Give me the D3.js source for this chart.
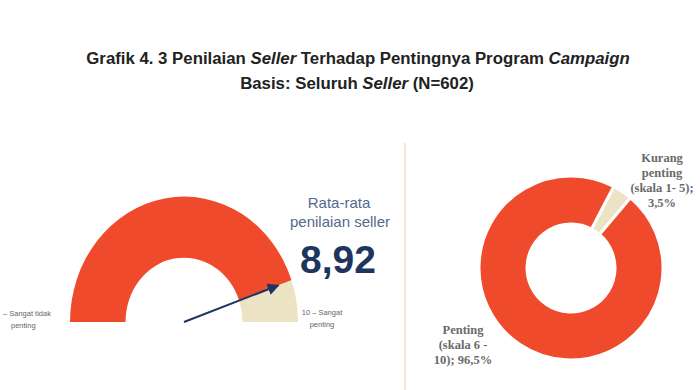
<!DOCTYPE html>
<html>
<head>
<meta charset="utf-8">
<script src="https://cdn.jsdelivr.net/npm/d3@7"></script>
<style>
  body { margin: 0; background: #fff; }
  svg { display: block; }
</style>
</head>
<body>
<div id="wrapper"></div>
<script>
// data
const gaugeMin = 0;
const gaugeMax = 10;
const gaugeValue = 8.92;
const gaugeValueLabel = "8,92";
const gaugeEndLabels = [["– Sangat tidak", "penting"], ["10 – Sangat", "penting"]];
const donutCategories = ["Kurang penting (skala 1- 5)", "Penting (skala 6 - 10)"];
const donutValues = [3.5, 96.5];
const donutLabels = [["Kurang", "penting", "(skala 1- 5);", "3,5%"], ["Penting", "(skala 6 -", "10); 96,5%"]];

const width = 700, height = 390;
const red = "#ef4a2b", beige = "#ebe3c3", navy = "#1e3560";

const svg = d3.select("#wrapper").append("svg")
  .attr("width", width).attr("height", height);

// title
const title = svg.append("g")
  .attr("font-family", "Liberation Sans, Arial, sans-serif")
  .attr("font-weight", "bold").attr("font-size", 16.8).attr("fill", "#222")
  .attr("text-anchor", "middle");
const t1 = title.append("text").attr("x", 358).attr("y", 64);
t1.append("tspan").text("Grafik 4. 3 Penilaian ");
t1.append("tspan").attr("font-style", "italic").text("Seller");
t1.append("tspan").text(" Terhadap Pentingnya Program ");
t1.append("tspan").attr("font-style", "italic").text("Campaign");
const t2 = title.append("text").attr("x", 357).attr("y", 89);
t2.append("tspan").text("Basis: Seluruh ");
t2.append("tspan").attr("font-style", "italic").text("Seller");
t2.append("tspan").text(" (N=602)");

// gauge
const gcx = 184, gcy = 322, gR = 114, gr = 58.5;
const angle = d3.scaleLinear().domain([gaugeMin, gaugeMax]).range([-Math.PI / 2, Math.PI / 2]);
const gaugeSegs = [
  { from: gaugeMin, to: gaugeValue, color: red },
  { from: gaugeValue, to: gaugeMax, color: beige }
];
const gArc = d3.arc().innerRadius(gr).outerRadius(gR)
  .startAngle(d => angle(d.from)).endAngle(d => angle(d.to));
const gauge = svg.append("g").attr("transform", `translate(${gcx},${gcy}) scale(1,1.1)`);
gauge.selectAll("path").data(gaugeSegs).join("path")
  .attr("d", gArc).attr("fill", d => d.color);

svg.append("defs").append("marker")
  .attr("id", "head").attr("viewBox", "0 0 10 10")
  .attr("refX", 8).attr("refY", 5)
  .attr("markerWidth", 6).attr("markerHeight", 6)
  .attr("orient", "auto")
  .append("path").attr("d", "M0,0L10,5L0,10z").attr("fill", navy);

const a = angle(gaugeValue), len = 99;
svg.append("line")
  .attr("x1", gcx).attr("y1", gcy)
  .attr("x2", gcx + len * Math.sin(a)).attr("y2", gcy - len * Math.cos(a) * 1.1)
  .attr("stroke", navy).attr("stroke-width", 2)
  .attr("marker-end", "url(#head)");

const small = svg.append("g").attr("font-family", "Liberation Sans, sans-serif")
  .attr("font-size", 7.5).attr("fill", "#666");
small.append("text").attr("x", 3).attr("y", 316).text(gaugeEndLabels[0][0]);
small.append("text").attr("x", 11).attr("y", 328).text(gaugeEndLabels[0][1]);
gaugeEndLabels[1].forEach((s, i) => {
  small.append("text").attr("x", 322).attr("y", 315 + i * 12)
    .attr("text-anchor", "middle").text(s);
});

const avg = svg.append("g").attr("text-anchor", "middle")
  .attr("font-family", "Liberation Sans, sans-serif");
avg.append("text").attr("x", 339).attr("y", 208).attr("font-size", 15)
  .attr("fill", "#55698c").text("Rata-rata");
avg.append("text").attr("x", 340).attr("y", 227).attr("font-size", 15)
  .attr("fill", "#55698c").text("penilaian seller");
avg.append("text").attr("x", 338).attr("y", 273).attr("font-size", 39)
  .attr("font-weight", "bold")
  .attr("fill", navy).text(gaugeValueLabel);

// divider
svg.append("line").attr("x1", 405).attr("x2", 405).attr("y1", 143).attr("y2", 390)
  .attr("stroke", "#f1dcc6").attr("stroke-width", 1.5);

// donut
const dcx = 571, dcy = 268, dR = 92, dr = 44;
const start = 27.7 * Math.PI / 180;
const pie = d3.pie().sort(null).value(d => d)
  .startAngle(start).endAngle(start + 2 * Math.PI);
const dArc = d3.arc().innerRadius(dr).outerRadius(dR);
svg.append("g").attr("transform", `translate(${dcx},${dcy})`)
  .selectAll("path").data(pie(donutValues)).join("path")
  .attr("d", dArc)
  .attr("fill", (d, i) => i === 0 ? beige : red)
  .attr("stroke", "#fff").attr("stroke-width", 3);

const dl = svg.append("g").attr("font-family", "Liberation Serif, serif")
  .attr("font-weight", "bold").attr("font-size", 12.5).attr("fill", "#6a6a6a")
  .attr("text-anchor", "middle");
donutLabels[0].forEach((s, i) => {
  dl.append("text").attr("x", 662).attr("y", 162 + i * 15).text(s);
});
donutLabels[1].forEach((s, i) => {
  dl.append("text").attr("x", 463).attr("y", 334 + i * 15).text(s);
});
</script>
</body>
</html>
